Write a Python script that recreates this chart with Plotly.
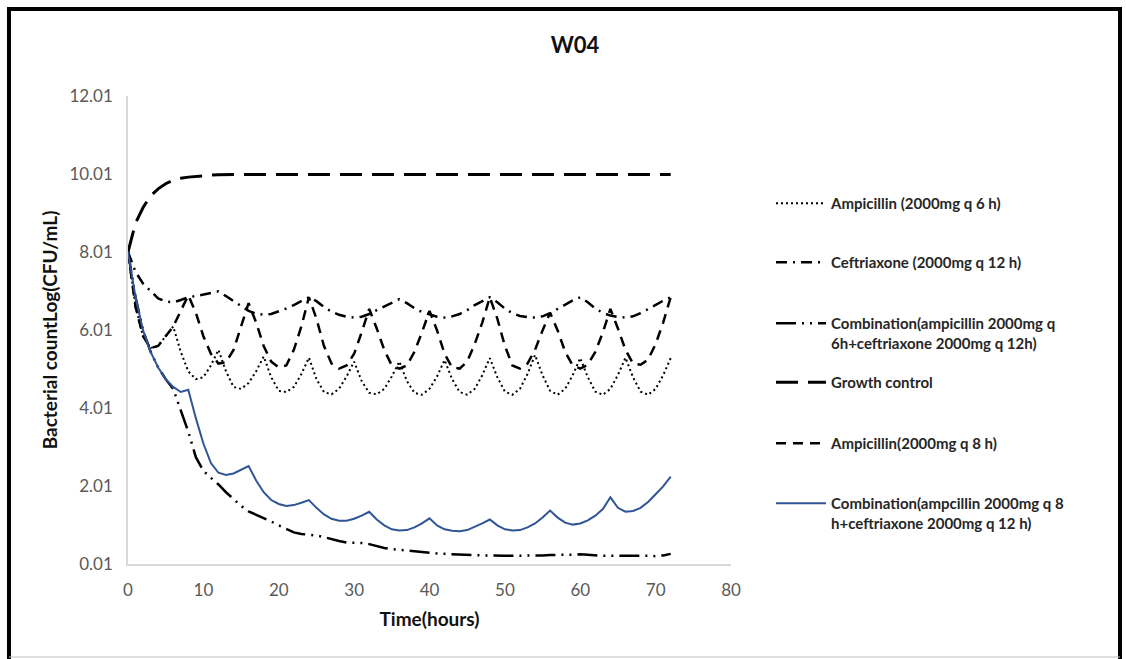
import plotly.graph_objects as go

# ---------------- data ----------------
hours = list(range(0, 73))

ampicillin_q6h = [8.01, 6.6, 5.85, 5.55, 5.6, 5.85, 6.1, 5.45, 4.95, 4.75, 4.8, 5.1, 5.5,
                  4.95, 4.55, 4.5, 4.65, 4.95, 5.33, 4.8, 4.45, 4.42, 4.55, 4.88, 5.3,
                  4.75, 4.42, 4.36, 4.5, 4.82, 5.2, 4.7, 4.4, 4.36, 4.5, 4.82, 5.2,
                  4.7, 4.4, 4.35, 4.5, 4.82, 5.24, 4.75, 4.42, 4.35, 4.5, 4.85, 5.29,
                  4.8, 4.43, 4.35, 4.5, 4.88, 5.37, 4.85, 4.45, 4.35, 4.5, 4.85, 5.29,
                  4.8, 4.43, 4.35, 4.5, 4.86, 5.3, 4.8, 4.43, 4.35, 4.5, 4.85, 5.29]

ceftriaxone_q12h = [8.01, 7.5, 7.2, 7.0, 6.82, 6.74, 6.72, 6.78, 6.85, 6.88, 6.92, 6.97, 7.0,
                    6.88, 6.75, 6.62, 6.5, 6.43, 6.4, 6.42, 6.48, 6.56, 6.65, 6.75, 6.85,
                    6.75, 6.6, 6.48, 6.4, 6.35, 6.33, 6.35, 6.42, 6.52, 6.62, 6.72, 6.8,
                    6.7, 6.57, 6.47, 6.4, 6.35, 6.33, 6.36, 6.42, 6.52, 6.65, 6.75, 6.85,
                    6.72, 6.56, 6.44, 6.37, 6.34, 6.33, 6.36, 6.44, 6.55, 6.67, 6.77, 6.85,
                    6.72, 6.56, 6.45, 6.38, 6.34, 6.33, 6.36, 6.44, 6.55, 6.66, 6.76, 6.85]

combo_q6h_cef = [8.01, 6.85, 6.0, 5.45, 5.05, 4.75, 4.5, 3.95, 3.4, 2.75, 2.4, 2.22, 2.05,
                 1.85, 1.68, 1.5, 1.36, 1.28, 1.2, 1.1, 1.0, 0.9, 0.82, 0.78, 0.76,
                 0.74, 0.7, 0.64, 0.6, 0.56, 0.55, 0.55, 0.52, 0.46, 0.42, 0.39, 0.37,
                 0.35, 0.33, 0.31, 0.29, 0.28, 0.27, 0.26, 0.25, 0.24, 0.24, 0.23, 0.23,
                 0.22, 0.22, 0.22, 0.22, 0.22, 0.23, 0.23, 0.24, 0.25, 0.25, 0.25, 0.26,
                 0.25, 0.23, 0.22, 0.22, 0.22, 0.22, 0.22, 0.23, 0.22, 0.21, 0.23, 0.27]

growth_control = [8.01, 8.75, 9.15, 9.45, 9.63, 9.76, 9.85, 9.9, 9.93, 9.95, 9.97, 9.98, 9.99,
                  10.0, 10.0, 10.0, 10.0, 10.0, 10.0, 10.0, 10.0, 10.0, 10.0, 10.0, 10.0,
                  10.0, 10.0, 10.0, 10.0, 10.0, 10.0, 10.0, 10.0, 10.0, 10.0, 10.0, 10.0,
                  10.0, 10.0, 10.0, 10.0, 10.0, 10.0, 10.0, 10.0, 10.0, 10.0, 10.0, 10.0,
                  10.0, 10.0, 10.0, 10.0, 10.0, 10.0, 10.0, 10.0, 10.0, 10.0, 10.0, 10.0,
                  10.0, 10.0, 10.0, 10.0, 10.0, 10.0, 10.0, 10.0, 10.0, 10.0, 10.0, 10.0]

ampicillin_q8h = [8.01, 6.6, 5.85, 5.55, 5.6, 5.85, 6.1, 6.5, 6.9, 6.45, 5.85, 5.4, 5.15,
                  5.18, 5.5, 6.1, 6.7, 6.2, 5.6, 5.2, 5.05, 5.1, 5.5, 6.1, 6.85,
                  6.3, 5.6, 5.15, 5.02, 5.1, 5.4, 5.95, 6.55, 6.05, 5.5, 5.1, 5.02,
                  5.1, 5.45, 5.95, 6.5, 6.0, 5.4, 5.05, 5.02, 5.2, 5.65, 6.2, 6.85,
                  6.3, 5.6, 5.1, 5.02, 5.15, 5.5, 6.0, 6.45, 6.0, 5.45, 5.1, 5.02,
                  5.12, 5.45, 5.95, 6.55, 6.05, 5.5, 5.15, 5.12, 5.25, 5.65, 6.2, 6.85]

combo_q8h_cef = [8.01, 6.85, 6.0, 5.45, 5.05, 4.75, 4.55, 4.42, 4.48, 3.75, 3.1, 2.6, 2.35,
                 2.29, 2.33, 2.42, 2.52, 2.15, 1.85, 1.65, 1.55, 1.5, 1.52, 1.58, 1.65,
                 1.45, 1.28, 1.17, 1.12, 1.12, 1.17, 1.25, 1.35, 1.15, 1.0, 0.9, 0.87,
                 0.88, 0.95, 1.05, 1.18, 1.0, 0.9, 0.86, 0.85, 0.88, 0.96, 1.05, 1.15,
                 1.0, 0.9, 0.87, 0.88, 0.95, 1.05, 1.2, 1.38, 1.2, 1.07, 1.02, 1.05,
                 1.13, 1.25, 1.42, 1.72, 1.45, 1.35, 1.37, 1.45, 1.6, 1.8, 2.0, 2.25]

series_names = [
    "Ampicillin (2000mg q 6 h)",
    "Ceftriaxone (2000mg q 12 h)",
    "Combination(ampicillin 2000mg q<br>6h+ceftriaxone 2000mg q 12h)",
    "Growth control",
    "Ampicillin(2000mg q 8 h)",
    "Combination(ampcillin 2000mg q 8<br>h+ceftriaxone 2000mg q 12 h)",
]

x_ticks = [0, 10, 20, 30, 40, 50, 60, 70, 80]
y_ticks = [0.01, 2.01, 4.01, 6.01, 8.01, 10.01, 12.01]
y_tick_labels = ["0.01", "2.01", "4.01", "6.01", "8.01", "10.01", "12.01"]

# ---------------- layout helpers ----------------
W, H = 1126, 659
L, R, T, B = 128, 731, 96, 564


def px(xp):
    return (xp - L) / (R - L)


def py(yp):
    return (B - yp) / (B - T)


FONT = "Lato"

styles = [
    dict(color="#000000", width=2, dash="2px,3px"),
    dict(color="#000000", width=2.5, dash="11px,6px,2px,6px"),
    dict(color="#000000", width=2.5, dash="20px,6px,2px,6px,2px,6px"),
    dict(color="#000000", width=3, dash="22px,10px"),
    dict(color="#000000", width=2.5, dash="10px,7px"),
    dict(color="#2f5597", width=2),
]

series = [ampicillin_q6h, ceftriaxone_q12h, combo_q6h_cef, growth_control,
          ampicillin_q8h, combo_q8h_cef]

legend_rows = [203, 262, 323, 382, 443, 503]

fig = go.Figure()
legend_layouts = {}
for i, (name, ys, st) in enumerate(zip(series_names, series, styles)):
    lg = "legend" if i == 0 else f"legend{i + 1}"
    fig.add_trace(go.Scatter(x=hours, y=ys, mode="lines", name=name, line=st,
                             legend=lg, showlegend=True))
    legend_layouts[lg] = dict(
        x=px(771), y=py(legend_rows[i] - 16), xanchor="left", yanchor="top",
        valign="top", bgcolor="rgba(0,0,0,0)", borderwidth=0,
        font=dict(family=FONT, size=15, color="#262626", weight="bold"),
        itemwidth=50, tracegroupgap=0,
    )

fig.update_layout(**legend_layouts)

fig.update_layout(
    width=W, height=H,
    margin=dict(l=L, r=W - R, t=T, b=H - B, pad=0),
    paper_bgcolor="white", plot_bgcolor="white",
    title=dict(text="W04", x=px(575), xanchor="center", xref="paper",
               y=1 - 45 / H, yanchor="middle", yref="container",
               font=dict(family=FONT, size=22, color="#111111", weight="bold")),
    xaxis=dict(range=[0, 80], tickvals=x_ticks, showgrid=False, zeroline=False,
               showline=True, linecolor="#d9d9d9", linewidth=1.5, ticks="",
               ticklabelstandoff=10,
               tickfont=dict(family=FONT, size=17, color="#595959"),
               title=dict(text="Time(hours)", standoff=14,
                          font=dict(family=FONT, size=19, color="#111111", weight="bold"))),
    yaxis=dict(range=[0.01, 12.01], tickvals=y_ticks, ticktext=y_tick_labels,
               showgrid=False, zeroline=False, showline=True, linecolor="#d9d9d9",
               linewidth=1.5, ticks="", ticklabelstandoff=10,
               tickfont=dict(family=FONT, size=17, color="#595959"),
               title=dict(text="Bacterial countLog(CFU/mL)", standoff=7,
                          font=dict(family=FONT, size=19, color="#111111", weight="bold"))),
    showlegend=True,
)

# outer frame of the figure
frame = dict(type="line", xref="paper", yref="paper", line=dict(color="#000000", width=4))
fig.add_shape(**frame, x0=px(9), x1=px(9), y0=py(8), y1=py(662))
fig.add_shape(**frame, x0=px(1120), x1=px(1120), y0=py(8), y1=py(662))
fig.add_shape(**frame, x0=px(7), x1=px(1122), y0=py(9), y1=py(9))
fig.add_shape(type="line", xref="paper", yref="paper", x0=px(9), x1=px(1120),
              y0=py(657), y1=py(657), line=dict(color="#bfbfbf", width=1))

fig.write_html("out.html")
